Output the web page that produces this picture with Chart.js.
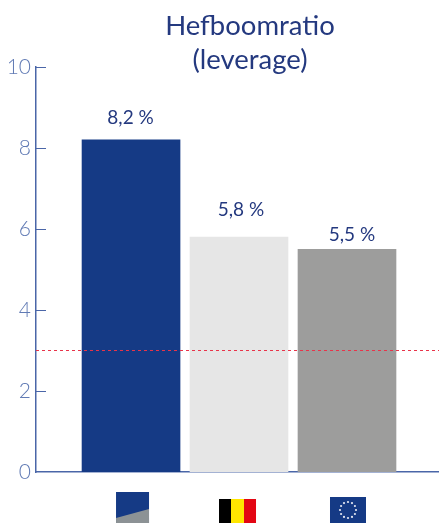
<!DOCTYPE html>
<html>
<head>
<meta charset="utf-8">
<style>
  html, body { margin: 0; padding: 0; background: #fff; }
  canvas { display: block; }
</style>
<script src="https://cdn.jsdelivr.net/npm/chart.js@4"></script>
</head>
<body>
<canvas id="leverageChart" width="439" height="523"></canvas>
<script>
const titleLines = ["Hefboomratio", "(leverage)"];
const categories = ["KBC", "België", "EU"];
const ratios = [8.2, 5.8, 5.5];
const ratioLabels = ["8,2 %", "5,8 %", "5,5 %"];
const thresholdValues = [3, 3];
const yTicks = [0, 2, 4, 6, 8, 10];
const barColors = ["#153a85", "#e6e6e6", "#9d9d9c"];

const AXIS_BLUE = "#4a66a8";
const TEXT_BLUE = "#24397f";
const TICK_BLUE = "#607ab4";

// the bars are not centred in their slots in the original, so x is a linear scale
const xMin = -0.88;
const xMax = 2.852;

// hand-tuned: label offset from bar top [dx, dy]
const labelOffsets = [[-0.5, 16], [2, 21], [5, 8]];

function drawFlag(ctx, index, cx) {
  if (index === 0) {
    const x = cx - 15, y = 492, w = 33, h = 31;
    ctx.fillStyle = "#153a85";
    ctx.fillRect(x, y, w, h);
    ctx.fillStyle = "#8c9295";
    ctx.beginPath();
    ctx.moveTo(x, y + 26);
    ctx.lineTo(x + w, y + 17);
    ctx.lineTo(x + w, y + h);
    ctx.lineTo(x, y + h);
    ctx.closePath();
    ctx.fill();
  } else if (index === 1) {
    const x = cx - 20, y = 499, h = 24;
    ctx.fillStyle = "#000000";
    ctx.fillRect(x, y, 12, h);
    ctx.fillStyle = "#ffe600";
    ctx.fillRect(x + 12, y, 13, h);
    ctx.fillStyle = "#e30613";
    ctx.fillRect(x + 25, y, 12, h);
  } else {
    const x = cx - 17, y = 497, w = 36, h = 26;
    ctx.fillStyle = "#153a85";
    ctx.fillRect(x, y, w, h);
    ctx.fillStyle = "#e4e8f2";
    for (let i = 0; i < 12; i++) {
      const a = i * Math.PI / 6;
      ctx.beginPath();
      ctx.arc(x + w / 2 + Math.cos(a) * 8, y + h / 2 + Math.sin(a) * 8, 1.1, 0, Math.PI * 2);
      ctx.fill();
    }
  }
}

const extrasPlugin = {
  id: "extras",
  afterDraw(chart) {
    const { ctx, scales } = chart;
    const xScale = scales.x, yScale = scales.y;
    ctx.save();

    // inward tick marks
    ctx.strokeStyle = AXIS_BLUE;
    ctx.lineWidth = 1;
    yTicks.forEach((v) => {
      if (v === 0) return;
      const py = Math.round(yScale.getPixelForValue(v)) + 0.5;
      ctx.beginPath();
      ctx.moveTo(36, py);
      ctx.lineTo(46, py);
      ctx.stroke();
    });

    // title
    ctx.fillStyle = TEXT_BLUE;
    ctx.textAlign = "center";
    ctx.textBaseline = "alphabetic";
    ctx.font = "27.5px Lato";
    ctx.fillText(titleLines[0], 250, 35);
    ctx.fillText(titleLines[1], 250, 69);

    // value labels and flags
    ctx.font = "19px Lato";
    ratios.forEach((v, i) => {
      const cx = xScale.getPixelForValue(i);
      ctx.fillStyle = TEXT_BLUE;
      ctx.fillText(ratioLabels[i], cx + labelOffsets[i][0], yScale.getPixelForValue(v) - labelOffsets[i][1]);
      drawFlag(ctx, i, cx);
    });
    ctx.restore();
  }
};

new Chart(document.getElementById("leverageChart").getContext("2d"), {
  type: "bar",
  data: {
    datasets: [
      {
        type: "line",
        data: [{ x: xMin, y: thresholdValues[0] }, { x: xMax, y: thresholdValues[1] }],
        borderColor: "#e8344a",
        borderWidth: 1,
        borderDash: [3, 3],
        pointRadius: 0,
        order: 0
      },
      {
        data: categories.map((_, i) => ({ x: i, y: ratios[i] })),
        backgroundColor: barColors,
        barThickness: 98,
        order: 1
      }
    ]
  },
  plugins: [extrasPlugin],
  options: {
    responsive: false,
    animation: false,
    layout: { padding: { left: 0, right: 0, top: 67, bottom: 51 } },
    plugins: { legend: { display: false }, tooltip: { enabled: false } },
    scales: {
      x: {
        type: "linear",
        offset: false,
        min: xMin,
        max: xMax,
        afterFit(scale) { scale.height = 0; },
        grid: { display: false, drawTicks: false },
        border: { color: AXIS_BLUE, width: 1.5 },
        ticks: { display: false }
      },
      y: {
        min: 0,
        max: 10,
        afterFit(scale) { scale.width = 36; },
        afterBuildTicks(scale) { scale.ticks = yTicks.map((v) => ({ value: v })); },
        grid: { display: false, drawTicks: false },
        border: { color: AXIS_BLUE, width: 1.5 },
        ticks: {
          color: TICK_BLUE,
          font: { family: "Lato", size: 21, weight: "300" },
          padding: 5
        }
      }
    }
  }
});
</script>
</body>
</html>
